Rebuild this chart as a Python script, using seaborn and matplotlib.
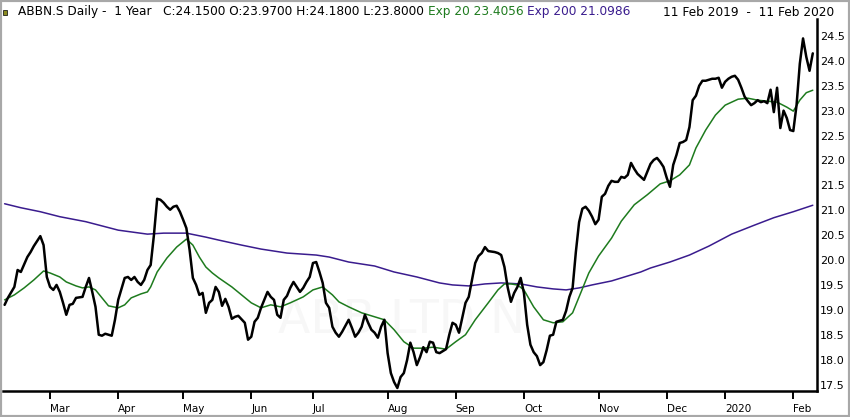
import pandas as pd
import matplotlib
matplotlib.use("Agg")
import matplotlib.pyplot as plt
import matplotlib.patches as mpatches
import seaborn as sns

# trading calendar: SIX, 11 Feb 2019 - 11 Feb 2020
START, END = "2019-02-11", "2020-02-11"
HOLIDAYS = ["2019-04-19", "2019-04-22", "2019-05-01", "2019-05-30", "2019-06-10",
            "2019-08-01", "2019-12-24", "2019-12-25", "2019-12-26", "2019-12-31",
            "2020-01-01", "2020-01-02"]
MONTH_LABELS = ["Mar", "Apr", "May", "Jun", "Jul", "Aug", "Sep", "Oct", "Nov", "Dec", "2020", "Feb"]
PRICE_TICKS = [17.5, 18.0, 18.5, 19.0, 19.5, 20.0, 20.5, 21.0, 21.5, 22.0, 22.5, 23.0, 23.5, 24.0, 24.5]

# daily close (trading-day index from 11 Feb 2019)
close_day = [0, 1, 3, 4, 5, 7, 8, 9, 11, 12, 13, 14, 15, 16, 17, 18, 19, 20, 21, 22,
             24, 25, 26, 27, 28, 29, 30, 31, 33, 34, 35, 37, 38, 39, 40, 41, 42, 43, 44, 45,
             46, 47, 48, 49, 50, 51, 52, 53, 54, 55, 56, 57, 58, 59, 60, 61, 62, 63, 64, 65,
             66, 67, 68, 69, 70, 71, 72, 74, 75, 76, 77, 78, 79, 81, 82, 83, 84, 85, 86, 87,
             88, 89, 90, 91, 92, 93, 94, 95, 96, 97, 98, 99, 100, 101, 102, 103, 104, 106, 107, 108,
             109, 110, 111, 112, 113, 114, 115, 116, 117, 118, 119, 120, 121, 122, 123, 124, 125, 126, 127, 128,
             129, 130, 131, 132, 133, 134, 135, 136, 137, 138, 139, 140, 141, 142, 143, 144, 145, 146, 147, 148,
             149, 151, 152, 153, 154, 155, 156, 157, 158, 159, 160, 161, 162, 163, 164, 165, 166, 167, 168, 169,
             170, 171, 172, 173, 174, 175, 176, 177, 178, 179, 180, 181, 182, 183, 184, 185, 186, 187, 188, 189,
             190, 191, 192, 193, 194, 195, 196, 197, 198, 199, 200, 201, 202, 203, 204, 205, 206, 207, 208, 209,
             210, 211, 212, 213, 214, 215, 216, 217, 218, 219, 220, 221, 222, 223, 224, 225, 226, 227, 228, 229,
             230, 231, 232, 233, 234, 235, 236, 237, 238, 239, 240, 241, 242, 243, 244, 245, 246, 247, 248, 249]
close = [19.10, 19.24, 19.46, 19.80, 19.76, 20.06, 20.16, 20.28, 20.48, 20.30, 19.66, 19.46, 19.40, 19.50, 19.36, 19.14, 18.90, 19.10, 19.12, 19.24,
         19.26, 19.46, 19.64, 19.36, 19.06, 18.50, 18.48, 18.52, 18.48, 18.80, 19.20, 19.64, 19.66, 19.60, 19.66, 19.56, 19.50, 19.60, 19.80, 19.90,
         20.50, 21.23, 21.21, 21.15, 21.07, 21.01, 21.07, 21.09, 20.97, 20.81, 20.64, 20.20, 19.64, 19.50, 19.30, 19.34, 18.94, 19.14, 19.20, 19.46,
         19.36, 19.08, 19.22, 19.06, 18.82, 18.86, 18.88, 18.74, 18.40, 18.46, 18.76, 18.84, 19.04, 19.36, 19.26, 19.20, 18.90, 18.84, 19.20, 19.28,
         19.44, 19.56, 19.46, 19.36, 19.44, 19.56, 19.66, 19.94, 19.96, 19.76, 19.54, 19.14, 19.04, 18.66, 18.54, 18.46, 18.56, 18.80, 18.64, 18.46,
         18.54, 18.66, 18.90, 18.74, 18.60, 18.54, 18.44, 18.66, 18.80, 18.13, 17.73, 17.55, 17.43, 17.65, 17.73, 17.99, 18.34, 18.15, 17.89, 18.05,
         18.25, 18.15, 18.36, 18.34, 18.15, 18.13, 18.17, 18.21, 18.50, 18.74, 18.70, 18.54, 18.84, 19.14, 19.26, 19.60, 19.94, 20.08, 20.14, 20.26,
         20.18, 20.16, 20.14, 20.10, 19.86, 19.45, 19.16, 19.34, 19.46, 19.64, 19.34, 18.70, 18.30, 18.15, 18.07, 17.89, 17.95, 18.19, 18.48, 18.50,
         18.76, 18.78, 18.80, 18.98, 19.26, 19.44, 20.16, 20.76, 21.03, 21.07, 20.99, 20.87, 20.72, 20.81, 21.27, 21.33, 21.49, 21.59, 21.57, 21.57,
         21.67, 21.65, 21.71, 21.95, 21.83, 21.73, 21.67, 21.61, 21.77, 21.93, 22.01, 22.05, 21.97, 21.87, 21.65, 21.47, 21.91, 22.11, 22.35, 22.37,
         22.41, 22.67, 23.21, 23.30, 23.50, 23.60, 23.60, 23.62, 23.64, 23.64, 23.66, 23.46, 23.58, 23.64, 23.68, 23.70, 23.62, 23.46, 23.28, 23.19,
         23.11, 23.15, 23.21, 23.17, 23.19, 23.15, 23.42, 22.97, 23.46, 22.65, 23.00, 22.85, 22.61, 22.59, 23.11, 23.94, 24.45, 24.08, 23.80, 24.15]

# 20-day exponential average
ema20_day = [0, 3, 6, 9, 12, 14, 17, 19, 22, 24, 26, 28, 30, 32, 35, 37, 39, 42, 44, 45,
             47, 50, 53, 56, 58, 60, 62, 64, 66, 70, 73, 76, 79, 82, 85, 88, 92, 95, 98, 101,
             103, 106, 110, 113, 117, 120, 123, 126, 129, 132, 136, 139, 142, 145, 149, 152, 154, 156, 158, 160,
             163, 166, 169, 172, 175, 177, 180, 183, 187, 190, 194, 198, 202, 205, 208, 211, 213, 216, 219, 222,
             226, 229, 232, 235, 238, 241, 243, 245, 247, 249]
ema20 = [19.20, 19.30, 19.44, 19.60, 19.78, 19.74, 19.66, 19.56, 19.48, 19.44, 19.46, 19.40, 19.24, 19.08, 19.04, 19.10, 19.24, 19.32, 19.36, 19.46,
         19.76, 20.04, 20.26, 20.42, 20.30, 20.06, 19.86, 19.74, 19.64, 19.46, 19.30, 19.14, 19.04, 19.10, 19.06, 19.14, 19.26, 19.40, 19.46, 19.30,
         19.16, 19.06, 18.94, 18.88, 18.80, 18.60, 18.36, 18.23, 18.23, 18.25, 18.21, 18.36, 18.50, 18.80, 19.14, 19.40, 19.52, 19.52, 19.50, 19.40,
         19.06, 18.80, 18.74, 18.76, 18.94, 19.26, 19.74, 20.08, 20.44, 20.78, 21.11, 21.31, 21.53, 21.59, 21.71, 21.91, 22.25, 22.61, 22.91, 23.11,
         23.23, 23.25, 23.21, 23.19, 23.17, 23.07, 22.99, 23.21, 23.36, 23.41]

# 200-day exponential average
ema200_day = [0, 5, 11, 17, 25, 35, 44, 49, 56, 62, 66, 73, 79, 87, 96, 100, 106, 114, 120, 127,
              134, 138, 143, 148, 153, 159, 164, 169, 173, 177, 181, 187, 192, 196, 199, 205, 211, 217, 224, 231,
              237, 243, 249]
ema200 = [21.13, 21.05, 20.97, 20.87, 20.77, 20.60, 20.52, 20.54, 20.54, 20.46, 20.40, 20.30, 20.22, 20.14, 20.10, 20.06, 19.96, 19.88, 19.76, 19.66,
          19.54, 19.50, 19.48, 19.52, 19.54, 19.52, 19.46, 19.42, 19.40, 19.44, 19.50, 19.58, 19.68, 19.76, 19.84, 19.96, 20.10, 20.28, 20.52, 20.70,
          20.85, 20.97, 21.10]

BLACK = "#000000"
GREEN = "#1e7b1e"
PURPLE = "#3a1c8e"

sessions = pd.bdate_range(START, END, freq="C", holidays=HOLIDAYS)
session_month = sessions.to_period("M")
month_pos = [i for i in range(1, len(sessions)) if session_month[i] != session_month[i - 1]]

df_close = pd.DataFrame({"day": close_day, "price": close})
df_e20 = pd.DataFrame({"day": ema20_day, "price": ema20})
df_e200 = pd.DataFrame({"day": ema200_day, "price": ema200})

sns.set_style("white")
plt.rcParams["font.family"] = ["DejaVu Sans"]

W, H = 850, 417
fig = plt.figure(figsize=(W / 100, H / 100), dpi=100)
ax = fig.add_axes([3 / W, 1 - 391 / H, (817 - 3) / W, (391 - 19) / H])

sns.lineplot(data=df_e200, x="day", y="price", color=PURPLE, linewidth=1.1, ax=ax)
sns.lineplot(data=df_e20, x="day", y="price", color=GREEN, linewidth=1.1, ax=ax)
sns.lineplot(data=df_close, x="day", y="price", color=BLACK, linewidth=1.8, ax=ax)

# faint watermark
ax.text(0.49, 0.19, "ABB LTD N", transform=ax.transAxes, ha="center", va="center",
        fontsize=34, color="#f7f7f7", zorder=0)

ax.set_xlim(-0.5, 250.3)
ax.set_ylim(17.37, 24.84)
ax.set_xlabel("")
ax.set_ylabel("")

ax.yaxis.tick_right()
ax.set_yticks(PRICE_TICKS)
ax.set_yticklabels([f"{v:.1f}" for v in PRICE_TICKS])
ax.tick_params(axis="y", length=0, pad=2, labelsize=8, labelcolor="black")

ax.set_xticks(month_pos)
ax.set_xticklabels(MONTH_LABELS)
for lbl in ax.get_xticklabels():
    lbl.set_horizontalalignment("left")
ax.tick_params(axis="x", bottom=True, direction="out", length=6, width=1.4, color="black",
               pad=3, labelsize=7.5, labelcolor="black")

for side in ["top", "left"]:
    ax.spines[side].set_visible(False)
for side in ["right", "bottom"]:
    ax.spines[side].set_color("black")
    ax.spines[side].set_linewidth(1.8)

# header line
ty = 1 - 12 / H
hsize = 8.7
fig.patches.append(mpatches.Rectangle((3 / W, 1 - 15 / H), 4 / W, 5 / H, transform=fig.transFigure,
                                      facecolor="#8a8a20", edgecolor="black", linewidth=0.5))
fig.text(18 / W, ty, "ABBN.S Daily -  1 Year   C:24.1500 O:23.9700 H:24.1800 L:23.8000",
         fontsize=hsize, color="black", va="center", ha="left")
fig.text(428 / W, ty, "Exp 20 23.4056", fontsize=hsize, color=GREEN, va="center", ha="left")
fig.text(527 / W, ty, "Exp 200 21.0986", fontsize=hsize, color=PURPLE, va="center", ha="left")
fig.text(663 / W, ty, "11 Feb 2019  -  11 Feb 2020", fontsize=hsize, color="black", va="center", ha="left")

# image frame
fig.patches.append(mpatches.Rectangle((0, 0), 1, 1, transform=fig.transFigure, fill=False,
                                      edgecolor="#a8a8a8", linewidth=3))

fig.savefig("out.png", dpi=100)
